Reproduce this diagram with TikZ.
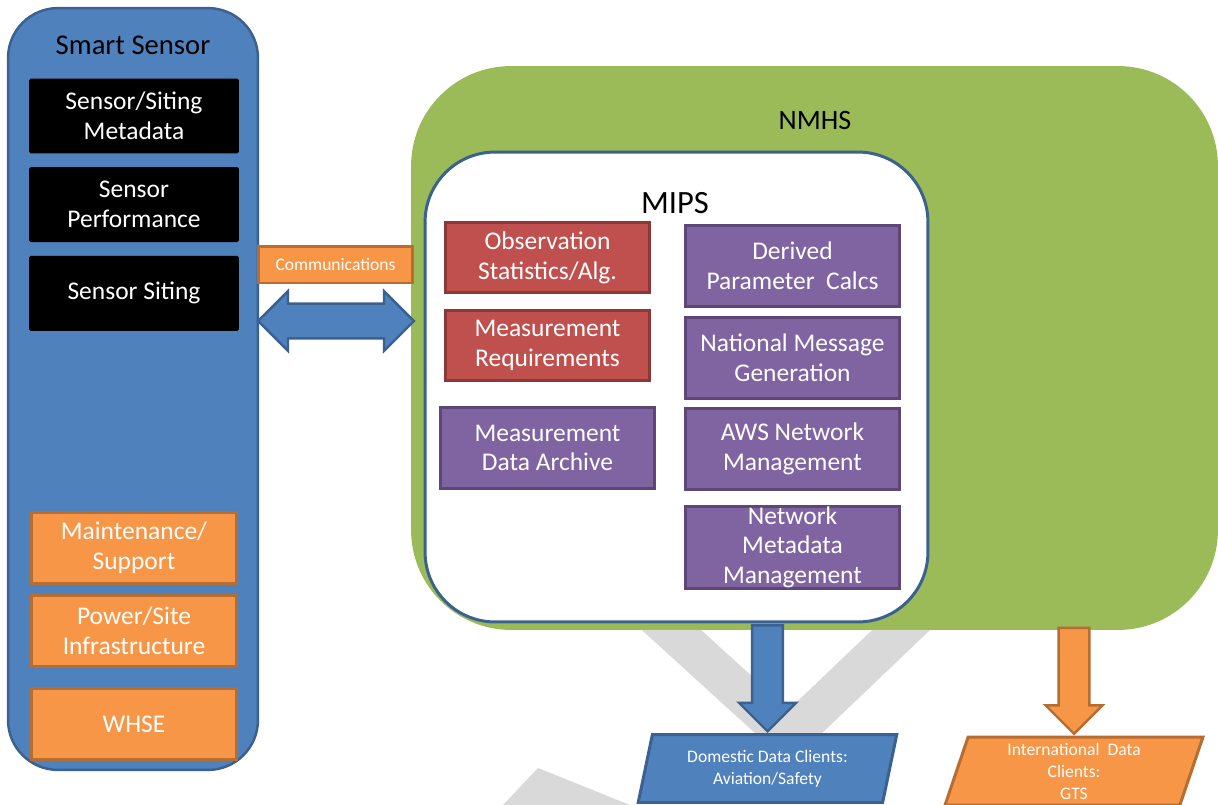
\documentclass[tikz,border=0pt]{standalone}
\usepackage{fontspec}
\setmainfont{Carlito}
\usetikzlibrary{positioning, shapes.geometric, shapes.arrows}

\definecolor{sensblue}{HTML}{4F81BD}
\definecolor{sensedge}{HTML}{3A6190}
\definecolor{orfill}{HTML}{F79646}
\definecolor{oredge}{HTML}{B66D31}
\definecolor{redfill}{HTML}{C0504D}
\definecolor{rededge}{HTML}{8C3836}
\definecolor{purfill}{HTML}{8064A2}
\definecolor{puredge}{HTML}{5C4776}
\definecolor{nmhsgreen}{HTML}{9BBB59}
\definecolor{wmgray}{HTML}{D9D9D9}

\begin{document}
\begin{tikzpicture}[
    x=0.02cm, y=-0.02cm,
    box/.style       = {rectangle, align=center, text=white, inner sep=0pt,
                        minimum width=4.2cm, minimum height=1.5cm,
                        font=\fontsize{14.5}{17}\selectfont},
    blackbox/.style  = {box, fill=black, rounded corners=1pt},
    orbox/.style     = {box, fill=orfill, draw=oredge, line width=1.7pt,
                        minimum width=4.1cm, minimum height=1.42cm},
    redbox/.style    = {box, fill=redfill, draw=rededge, line width=1.7pt,
                        minimum width=4.1cm, minimum height=1.4cm},
    purbox/.style    = {box, fill=purfill, draw=puredge, line width=1.7pt,
                        minimum width=4.3cm, minimum height=1.62cm},
    title/.style     = {text=black, inner sep=0pt},
    client/.style    = {trapezium, trapezium left angle=76, trapezium right angle=104,
                        trapezium stretches=true, minimum width=5.18cm, minimum height=1.36cm,
                        align=center, text=white, inner sep=1pt, line width=1.7pt},
    downarrow/.style = {single arrow, rotate=-90, anchor=tip, line width=1.4pt,
                        minimum height=2.12cm, minimum width=1.14cm,
                        inner sep=0pt, inner ysep=0.27cm},
    node distance = 0.26cm
]
\useasboundingbox (0,0) rectangle (1218,805);

% Vodoznak
\fill[wmgray] (538,768) -- (630,805) -- (503,805) -- cycle;
\draw[wmgray, line width=0.8cm, line join=miter] (577,544) -- (789,737) -- (1008,528);

% Kontejnery
\node[draw=sensedge, fill=sensblue, line width=1.4pt, rounded corners=1cm,
      minimum width=5cm, minimum height=15.24cm] (sensor) at (133,389) {};
\node[fill=nmhsgreen, rounded corners=2cm,
      minimum width=16.14cm, minimum height=11.28cm] (nmhs) at (814.5,348) {};
\node[draw=sensedge, fill=white, line width=1.7pt, rounded corners=1.4cm,
      minimum width=10.06cm, minimum height=9.4cm] (mips) at (676.5,387) {};

% Nadpisy
\node[title, font=\fontsize{16.3}{19}\selectfont] (sensortitle) at (133,45) {Smart Sensor};
\node[title, font=\fontsize{16}{19}\selectfont]   (nmhstitle)   at (815,120) {NMHS};
\node[title, font=\fontsize{18.5}{22}\selectfont] (mipstitle)   at (675,203) {MIPS};

% Smart Sensor bloky
\node[blackbox] (meta)   at (134,116)       {Sensor/Siting\\Metadata};
\node[blackbox, below=of meta]   (perf)     {Sensor\\Performance};
\node[blackbox, below=of perf]   (siting)   {Sensor Siting};
\node[orbox] (maint)     at (134,548)       {Maintenance/\\Support};
\node[orbox, below=0.18cm of maint] (power) {Power/Site\\Infrastructure};
\node[orbox, below=0.38cm of power] (whse)  {WHSE};

% Komunikace
\node[orbox, minimum width=3.1cm, minimum height=0.74cm, font=\fontsize{10}{12}\selectfont]
    (comm) at (335.5,264.5) {Communications};
\node[double arrow, fill=sensblue, draw=sensedge, line width=1.4pt,
      minimum height=3.12cm, minimum width=1.2cm, inner sep=0pt, inner ysep=0.32cm]
    (link) at (336,321) {};

% MIPS bloky
\node[redbox] (obs) at (547.5,257.5)            {Observation\\Statistics/Alg.};
\node[redbox, below=0.3cm of obs]   (req)       {Measurement\\Requirements};
\node[purbox, below=0.48cm of req]  (archive)   {Measurement\\Data Archive};
\node[purbox] (derived) at (792.5,266)          {Derived\\Parameter\ \ Calcs};
\node[purbox, below=0.16cm of derived] (natmsg) {National Message\\Generation};
\node[purbox, below=0.14cm of natmsg]  (aws)    {AWS Network\\Management};
\node[purbox, below=0.28cm of aws]     (netmeta){Network\\Metadata\\Management};

% Klienti dat
\node[client, fill=sensblue, draw=sensedge, font=\fontsize{10}{12.5}\selectfont]
    (domestic) at (767.5,768.5) {Domestic Data Clients:\\Aviation/Safety};
\node[client, fill=orfill, draw=oredge, font=\fontsize{10}{12.5}\selectfont]
    (intl) at (1074,771) {International\ \ Data\\Clients:\\GTS};

% Sipky ke klientum
\node[downarrow, fill=sensblue, draw=sensedge] (todom)  at (domestic.north) {};
\node[downarrow, fill=orfill,   draw=oredge]   (tointl) at (intl.north)     {};

\end{tikzpicture}
\end{document}
